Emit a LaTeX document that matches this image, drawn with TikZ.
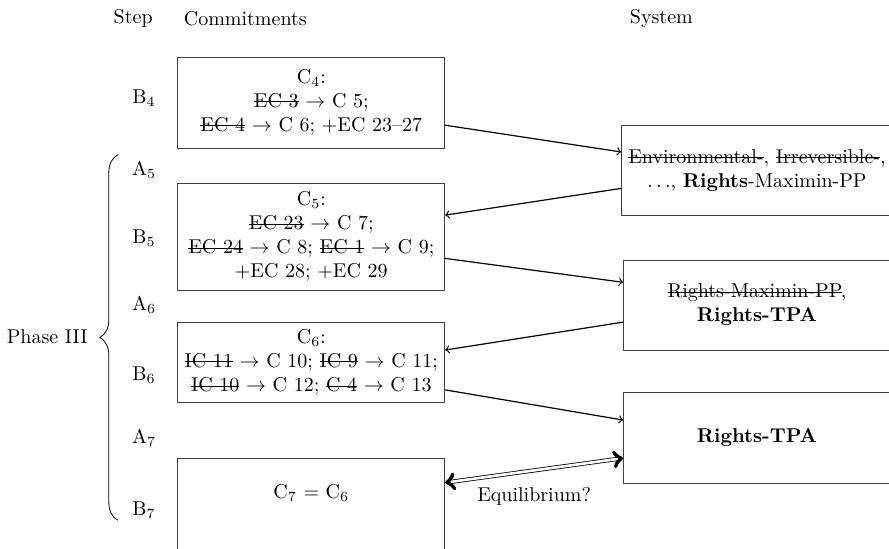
\documentclass[tikz,border=0pt]{standalone}
\usepackage{amsmath,amssymb}
\usepackage{tikz}
\usetikzlibrary{decorations.pathreplacing}

\newlength{\strklen}
\newcommand{\strk}[1]{\settowidth{\strklen}{#1}\rlap{\rule[0.6ex]{\strklen}{0.5pt}}#1}

\begin{document}
\begin{tikzpicture}[
  lbl/.style={inner sep=2pt},
  arr/.style={->, draw=black, semithick},
  eqarr/.style={<->, draw=black, double, double distance=1.3pt, thin},
  cbox/.style={draw=black!75, minimum width=4.69cm, align=center},
  sbox/.style={draw=black!75, minimum width=4.69cm, minimum height=1.58cm, align=center},
]
\useasboundingbox (0,0) rectangle (15.62,9.63);

%% ====================================================
%% Column headers
%% ====================================================
\node[lbl] (hstep) at (2.34, 9.31) {Step};
\node[lbl] (hcom)  at (4.31, 9.31) {Commitments};
\node[lbl] (hsys)  at (11.62, 9.31) {System};

%% Step labels
\foreach \nm/\tx/\yv in {b4/B_4/7.91, a5/A_5/6.64, b5/B_5/5.45, a6/A_6/4.27,
                         b6/B_6/3.04, a7/A_7/1.93, b7/B_7/0.67} {
  \node[lbl] (\nm) at (2.53, \yv) {$\mathrm{\tx}$};
}

%% Phase brace
\coordinate (brb) at (2.07, 0.49);
\coordinate (brt) at (2.07, 6.91);
\draw[decorate, decoration={brace, amplitude=9pt}] (brb) -- (brt);
\node[lbl] (phase) at (0.83, 3.71) {Phase III};

%% ====================================================
%% Commitments (left column)
%% ====================================================
\node[cbox, minimum height=1.60cm] (c4) at (5.47, 7.83)
  {C$_4$:\\ \strk{EC 3} $\rightarrow$ C 5;\\ \strk{EC 4} $\rightarrow$ C 6; +EC 23--27};
\node[cbox, minimum height=1.88cm] (c5) at (5.47, 5.47)
  {C$_5$:\\ \strk{EC 23} $\rightarrow$ C 7;\\
   \strk{EC 24} $\rightarrow$ C 8; \strk{EC 1} $\rightarrow$ C 9;\\ +EC 28; +EC 29};
\node[cbox, minimum height=1.39cm] (c6) at (5.47, 3.26)
  {C$_6$:\\ \strk{IC 11} $\rightarrow$ C 10; \strk{IC 9} $\rightarrow$ C 11;\\
   \strk{IC 10} $\rightarrow$ C 12; \strk{C 4} $\rightarrow$ C 13};
\node[cbox, minimum height=1.78cm, text height=7pt, text depth=18pt] (c7) at (5.47, 0.68)
  {C$_7$ = C$_6$};

%% ====================================================
%% System (right column)
%% ====================================================
\node[sbox] (s1) at (13.30, 6.64)
  {\strk{Environmental-}, \strk{Irreversible-},\\ $\ldots$, \textbf{Rights}-Maximin-PP};
\node[sbox] (s2) at (13.30, 4.27)
  {\strk{Rights-Maximin-PP},\\ \textbf{Rights-TPA}};
\node[sbox, minimum height=1.60cm] (s3) at (13.30, 1.94)
  {\textbf{Rights-TPA}};

%% Arrows
\draw[arr] ([yshift=-0.40cm]c4.east) -- ([yshift=0.32cm]s1.west);
\draw[arr] ([yshift=-0.32cm]s1.west) -- ([yshift=0.38cm]c5.east);
\draw[arr] ([yshift=-0.38cm]c5.east) -- ([yshift=0.40cm]s2.west);
\draw[arr] ([yshift=-0.30cm]s2.west) -- ([yshift=0.22cm]c6.east);
\draw[arr] ([yshift=-0.48cm]c6.east) -- ([yshift=0.31cm]s3.west);
\draw[eqarr] ([yshift=0.47cm]c7.east) -- ([yshift=-0.36cm]s3.west)
  node[midway, below=5pt, text=black] (eq) {Equilibrium?};

\end{tikzpicture}
\end{document}
